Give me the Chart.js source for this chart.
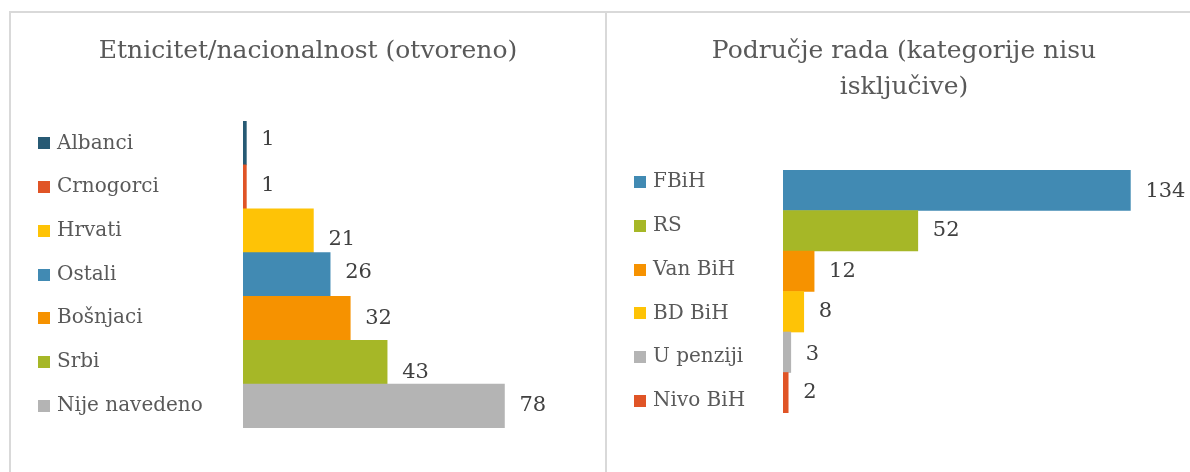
<!DOCTYPE html>
<html lang="bs">
<head>
<meta charset="UTF-8">
<title>Etnicitet i područje rada</title>
<script src="https://cdn.jsdelivr.net/npm/chart.js@4.4.1/dist/chart.umd.min.js"></script>
<style>
  body { margin: 0; background: #fff; width: 1190px; height: 472px; overflow: hidden; position: relative; }
  .okvir { position: absolute; top: 11px; border-left: 2px solid #d9d9d9; border-top: 2px solid #d9d9d9; }
  #okvirLijevo { left: 9px; width: 594px; height: 459px; }
  #okvirDesno { left: 605px; width: 583px; height: 459px; }
  canvas { display: block; }
</style>
</head>
<body>
<div class="okvir" id="okvirLijevo"><canvas id="etnicitetChart" width="594" height="459"></canvas></div>
<div class="okvir" id="okvirDesno"><canvas id="podrucjeChart" width="583" height="459"></canvas></div>
<script>
// Etnicitet/nacionalnost (otvoreno)
const etnicitetKategorije = ['Albanci', 'Crnogorci', 'Hrvati', 'Ostali', 'Bošnjaci', 'Srbi', 'Nije navedeno'];
const etnicitetVrijednosti = [1, 1, 21, 26, 32, 43, 78];
const etnicitetBoje = ['#275a74', '#e05426', '#fec306', '#418ab3', '#f69200', '#a6b727', '#b4b4b4'];

// Područje rada (kategorije nisu isključive)
const podrucjeKategorije = ['FBiH', 'RS', 'Van BiH', 'BD BiH', 'U penziji', 'Nivo BiH'];
const podrucjeVrijednosti = [134, 52, 12, 8, 3, 2];
const podrucjeBoje = ['#418ab3', '#a6b727', '#f69200', '#fec306', '#b4b4b4', '#e05426'];

const fontSerif = "'DejaVu Serif', serif";
const sivaBoja = '#595959';

// legenda lijevo, centrirana uz trake
const legendaPlugin = {
    id: 'legendaLijevo',
    afterDraw(chart, args, opts) {
        const ctx = chart.ctx;
        const oznake = chart.data.labels;
        const boje = chart.data.datasets[0].backgroundColor;
        const sredina = (chart.chartArea.top + chart.chartArea.bottom) / 2;
        const pocetak = sredina - (oznake.length - 1) * opts.razmak / 2;
        ctx.save();
        ctx.font = '20px ' + fontSerif;
        ctx.textBaseline = 'middle';
        ctx.textAlign = 'left';
        oznake.forEach((oznaka, i) => {
            const y = pocetak + i * opts.razmak;
            ctx.fillStyle = boje[i];
            ctx.fillRect(opts.x, Math.round(y - opts.kvadrat / 2), opts.kvadrat, opts.kvadrat);
            ctx.fillStyle = sivaBoja;
            ctx.fillText(oznaka, opts.x + opts.kvadrat + 7, y);
        });
        ctx.restore();
    }
};

// vrijednosti desno od kraja trake
const vrijednostiPlugin = {
    id: 'vrijednosti',
    afterDatasetsDraw(chart, args, opts) {
        const ctx = chart.ctx;
        const meta = chart.getDatasetMeta(0);
        const podaci = chart.data.datasets[0].data;
        ctx.save();
        ctx.font = '21px ' + fontSerif;
        ctx.fillStyle = '#404040';
        ctx.textBaseline = 'middle';
        ctx.textAlign = 'left';
        meta.data.forEach((traka, i) => {
            const pomak = (opts.pomak && opts.pomak[i]) || 0;
            ctx.fillText(podaci[i], traka.x + 15, traka.y + pomak);
        });
        ctx.restore();
    }
};

function napraviGrafikon(id, kategorije, vrijednosti, boje, naslov, p) {
    const ctx = document.getElementById(id).getContext('2d');
    return new Chart(ctx, {
        type: 'bar',
        data: {
            labels: kategorije,
            datasets: [{
                data: vrijednosti,
                backgroundColor: boje,
                borderWidth: 0,
                barPercentage: 1,
                categoryPercentage: 1
            }]
        },
        options: {
            indexAxis: 'y',
            responsive: false,
            animation: false,
            devicePixelRatio: 1,
            layout: { padding: p.padding },
            plugins: {
                legend: { display: false },
                tooltip: { enabled: false },
                title: {
                    display: true,
                    text: naslov,
                    color: sivaBoja,
                    font: { family: fontSerif, size: 25, weight: 'normal', lineHeight: 1.44 },
                    padding: { top: 20, bottom: p.naslovDolje }
                },
                legendaLijevo: { x: 27, kvadrat: 12, razmak: 43.7 },
                vrijednosti: { pomak: p.pomak }
            },
            scales: {
                x: { display: false, min: 0, max: p.maxX },
                y: {
                    display: true,
                    ticks: { display: false },
                    grid: { display: false },
                    border: { display: false },
                    afterFit: function(skala) {
                        skala.width = p.sirinaOse; // prostor za legendu
                    }
                }
            }
        },
        plugins: [legendaPlugin, vrijednostiPlugin]
    });
}

window.onload = function() {
    napraviGrafikon('etnicitetChart', etnicitetKategorije, etnicitetVrijednosti, etnicitetBoje,
        'Etnicitet/nacionalnost (otvoreno)', {
            padding: { bottom: 44 },
            naslovDolje: 52,
            sirinaOse: 232,
            maxX: 108,
            pomak: [-3, -1, 9, -2, 0, 10, -1]
        });

    napraviGrafikon('podrucjeChart', podrucjeKategorije, podrucjeVrijednosti, podrucjeBoje,
        ['Područje rada (kategorije nisu', 'isključive)'], {
            padding: { left: 11, bottom: 59 },
            naslovDolje: 65,
            sirinaOse: 165,
            maxX: 157,
            pomak: [1, 0, 0, 0, 2, 0]
        });
};
</script>
</body>
</html>
